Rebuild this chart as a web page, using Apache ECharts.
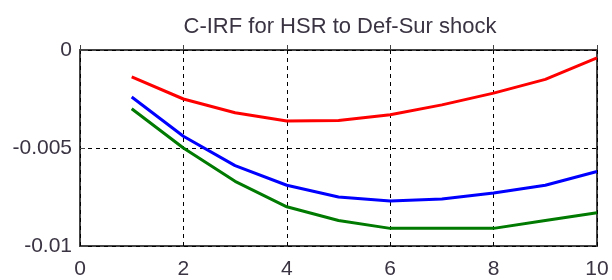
<!DOCTYPE html>
<html>
<head>
<meta charset="utf-8">
<script src="https://cdn.jsdelivr.net/npm/echarts@6/dist/echarts.min.js"></script>
<style>
  html, body { margin: 0; padding: 0; background: #fff; }
  #chart { width: 612px; height: 280px; }
</style>
</head>
<body>
<div id="chart"></div>
<script>
// horizon steps
const steps = [1, 2, 3, 4, 5, 6, 7, 8, 9, 10];

// responses
const upperBand = [-0.00137, -0.0025, -0.0032, -0.00362, -0.0036, -0.0033, -0.0028, -0.0022, -0.0015, -0.0004];
const median = [-0.0024, -0.0044, -0.0059, -0.0069, -0.0075, -0.0077, -0.0076, -0.0073, -0.0069, -0.0062];
const lowerBand = [-0.003, -0.005, -0.0067, -0.008, -0.0087, -0.0091, -0.0091, -0.0091, -0.0087, -0.0083];

const titleText = 'C-IRF for HSR to Def-Sur shock';

function pairs(values) {
    return steps.map((s, i) => [s, values[i]]);
}

const textColor = '#3a3342';
const fontName = 'Liberation Sans';

const chart = echarts.init(document.getElementById('chart'), null, { renderer: 'canvas' });

const dashed = {
    show: true,
    lineStyle: { color: '#000', width: 1, type: [4, 4] }
};

const ticks = {
    show: true,
    inside: true,
    length: 5,
    lineStyle: { color: '#444', width: 1 }
};

const option = {
    animation: false,
    backgroundColor: '#fff',
    title: {
        text: titleText,
        left: 335,
        top: 11,
        textAlign: 'center',
        textStyle: {
            fontFamily: fontName,
            fontWeight: 'normal',
            fontSize: 22,
            color: textColor
        }
    },
    grid: {
        left: 80,
        right: 15,
        top: 50,
        bottom: 33,
        show: true,
        borderColor: '#444',
        borderWidth: 2,
        backgroundColor: 'transparent'
    },
    xAxis: {
        type: 'value',
        min: 0,
        max: 10,
        interval: 2,
        axisLine: { show: false },
        axisTick: ticks,
        axisLabel: {
            margin: 13,
            fontFamily: fontName,
            fontSize: 21,
            color: textColor
        },
        splitLine: dashed
    },
    yAxis: {
        type: 'value',
        min: -0.01,
        max: 0,
        interval: 0.005,
        axisLine: { show: false },
        axisTick: ticks,
        axisLabel: {
            margin: 8,
            fontFamily: fontName,
            fontSize: 21,
            color: textColor
        },
        splitLine: dashed
    },
    series: [
        {
            type: 'line',
            data: pairs(upperBand),
            symbol: 'none',
            lineStyle: { color: '#ff0000', width: 3 },
            z: 3
        },
        {
            type: 'line',
            data: pairs(median),
            symbol: 'none',
            lineStyle: { color: '#0000ff', width: 3 },
            z: 3
        },
        {
            type: 'line',
            data: pairs(lowerBand),
            symbol: 'none',
            lineStyle: { color: '#007a00', width: 3 },
            z: 3
        }
    ]
};

chart.setOption(option);
</script>
</body>
</html>
